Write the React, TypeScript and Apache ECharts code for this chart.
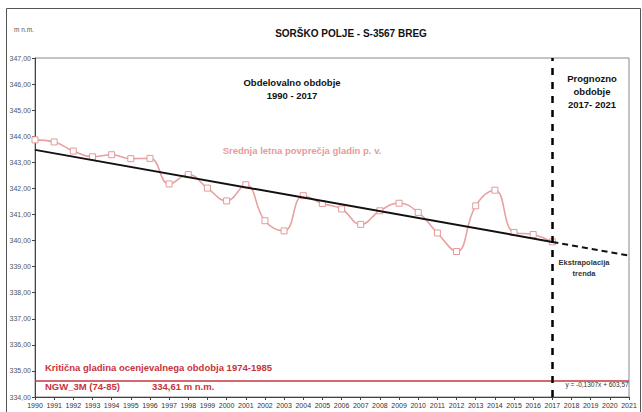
import React, { useEffect, useRef } from "react";
import * as echarts from "echarts";

const years = [1990, 1991, 1992, 1993, 1994, 1995, 1996, 1997, 1998, 1999, 2000, 2001, 2002, 2003, 2004, 2005, 2006, 2007, 2008, 2009, 2010, 2011, 2012, 2013, 2014, 2015, 2016, 2017];
const levels = [343.86, 343.78, 343.43, 343.21, 343.29, 343.14, 343.15, 342.17, 342.53, 342.01, 341.52, 342.14, 340.76, 340.37, 341.72, 341.42, 341.21, 340.62, 341.14, 341.43, 341.08, 340.29, 339.58, 341.33, 341.93, 340.31, 340.23, 339.95];
const trendSlope = -0.1307;
const trendIntercept = 603.57;
const trendSolidYears = [1990, 2017];
const trendDashedYears = [2017, 2021];
const criticalLevel = 334.61;
const forecastStartYear = 2017;
const yMin = 334;
const yMax = 347;
const xMin = 1990;
const xMax = 2021;

const FONT = "Liberation Sans, Arial, sans-serif";

export default function App() {
  const ref = useRef<HTMLDivElement>(null);
  useEffect(() => {
    document.body.style.margin = "0";
    const chart = echarts.init(ref.current!, undefined, { renderer: "svg" });
    const trend = (y: number) => trendIntercept + trendSlope * y;
    chart.setOption({
      animation: false,
      backgroundColor: "#ffffff",
      textStyle: { fontFamily: FONT },
      grid: { left: 35, right: 13, top: 58, bottom: 15, show: true, borderColor: "#8a8a8a", borderWidth: 1 },
      xAxis: {
        type: "value",
        min: xMin,
        max: xMax,
        interval: 1,
        axisLine: { show: true, lineStyle: { color: "#444", width: 1 } },
        axisTick: { show: true, length: 3, lineStyle: { color: "#444" } },
        axisLabel: { fontSize: 7, color: "#333", margin: 5, formatter: (v: number) => String(v), fontFamily: FONT },
        splitLine: { show: false },
      },
      yAxis: {
        type: "value",
        min: yMin,
        max: yMax,
        interval: 1,
        axisLine: { show: true, lineStyle: { color: "#444", width: 1 } },
        axisTick: { show: true, length: 3, lineStyle: { color: "#444" } },
        axisLabel: { fontSize: 7, color: "#555", margin: 4, formatter: (v: number) => v.toFixed(2).replace(".", ","), fontFamily: FONT },
        splitLine: { show: false },
      },
      series: [
        {
          type: "line",
          data: years.map((y, i) => [y, levels[i]]),
          smooth: 0.45,
          symbol: "rect",
          symbolSize: 6,
          itemStyle: { color: "#ffffff", borderColor: "#e49a9a", borderWidth: 1 },
          lineStyle: { color: "#e8a0a0", width: 1.6 },
          z: 3,
          markLine: {
            silent: true,
            symbol: "none",
            label: { show: false },
            data: [
              { yAxis: criticalLevel, lineStyle: { color: "#c8343c", width: 1.5, type: "solid" } },
              { xAxis: forecastStartYear, lineStyle: { color: "#000", width: 2.5, type: [7, 7] } },
            ],
          },
        },
        {
          type: "line",
          data: trendSolidYears.map((y) => [y, trend(y)]),
          symbol: "none",
          lineStyle: { color: "#111", width: 2 },
          z: 4,
        },
        {
          type: "line",
          data: trendDashedYears.map((y) => [y, trend(y)]),
          symbol: "none",
          lineStyle: { color: "#111", width: 2, type: [6, 4] },
          z: 4,
        },
      ],
      graphic: [
        { type: "rect", shape: { x: 6.5, y: 8.5, width: 634, height: 420 }, style: { fill: "none", stroke: "#555", lineWidth: 1 }, silent: true },
        { type: "text", left: 14, top: 26, style: { text: "m n.m.", fontSize: 6.5, fill: "#555", fontFamily: FONT } },
        { type: "text", x: 351, y: 33, style: { text: "SORŠKO POLJE - S-3567 BREG", fontSize: 10, fontWeight: "bold", fill: "#111", align: "center", verticalAlign: "middle", fontFamily: FONT } },
        { type: "text", x: 292, y: 89, style: { text: "Obdelovalno obdobje\n1990 - 2017", fontSize: 9.5, fontWeight: "bold", fill: "#111", align: "center", verticalAlign: "middle", lineHeight: 13, fontFamily: FONT } },
        { type: "text", x: 592, y: 91, style: { text: "Prognozno\nobdobje\n2017- 2021", fontSize: 9.5, fontWeight: "bold", fill: "#111", align: "center", verticalAlign: "middle", lineHeight: 13, fontFamily: FONT } },
        { type: "text", x: 302, y: 150, style: { text: "Srednja letna povprečja gladin p. v.", fontSize: 9.5, fontWeight: "bold", fill: "#e89a9a", align: "center", verticalAlign: "middle", fontFamily: FONT } },
        { type: "text", x: 584, y: 268, style: { text: "Ekstrapolacija\ntrenda", fontSize: 7.5, fontWeight: "bold", fill: "#333", align: "center", verticalAlign: "middle", lineHeight: 11, fontFamily: FONT } },
        { type: "text", x: 45, y: 367, style: { text: "Kritična gladina ocenjevalnega obdobja 1974-1985", fontSize: 9.5, fontWeight: "bold", fill: "#c8343c", verticalAlign: "middle", fontFamily: FONT } },
        { type: "text", x: 45, y: 386, style: { text: "NGW_3M (74-85)", fontSize: 9.5, fontWeight: "bold", fill: "#c8343c", verticalAlign: "middle", fontFamily: FONT } },
        { type: "text", x: 152, y: 386, style: { text: "334,61 m n.m.", fontSize: 9.5, fontWeight: "bold", fill: "#c8343c", verticalAlign: "middle", fontFamily: FONT } },
        { type: "text", x: 597, y: 384, style: { text: "y = -0,1307x + 603,57", fontSize: 6.5, fill: "#333", align: "center", verticalAlign: "middle", fontFamily: FONT } },
      ],
    });
    return () => chart.dispose();
  }, []);
  return <div ref={ref} style={{ position: "fixed", left: 0, top: 0, width: 642, height: 412 }} />;
}
